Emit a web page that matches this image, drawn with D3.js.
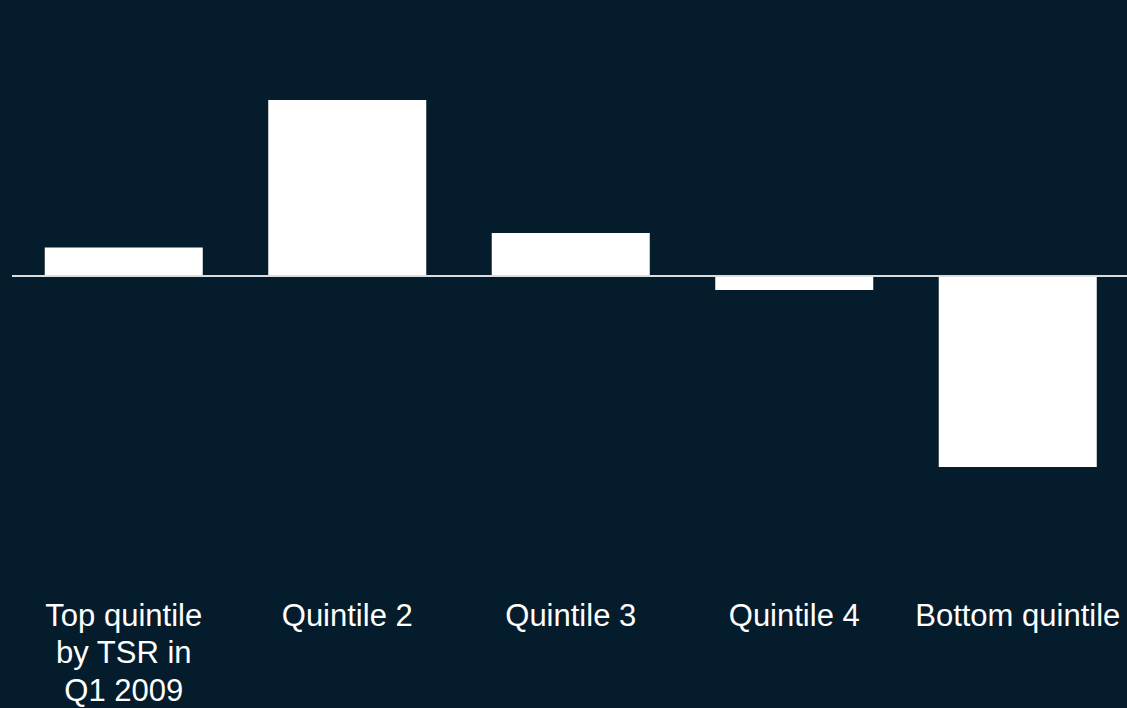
<!DOCTYPE html>
<html>
<head>
<meta charset="utf-8">
<script src="https://cdn.jsdelivr.net/npm/d3@7"></script>
<style>
  html, body { margin: 0; padding: 0; background: #051c2c; }
  svg { display: block; }
</style>
</head>
<body>
<svg id="chart" width="1127" height="708"></svg>
<script>
// Data
const categories = ["Top quintile by TSR in Q1 2009", "Quintile 2", "Quintile 3", "Quintile 4", "Bottom quintile"];
const labelLines = [["Top quintile", "by TSR in", "Q1 2009"], ["Quintile 2"], ["Quintile 3"], ["Quintile 4"], ["Bottom quintile"]];
const values = [2.85, 17.6, 4.3, -1.4, -19.1];

const W = 1127, H = 708;
const svg = d3.select("#chart");
svg.append("rect").attr("width", W).attr("height", H).attr("fill", "#051c2c");

const x = d3.scaleBand()
  .domain(categories)
  .range([12, 1129.5])
  .paddingInner(0.293)
  .paddingOuter(0.1465);

const y = d3.scaleLinear().domain([-20, 20]).range([476, 76]);

svg.append("g").selectAll("rect")
  .data(values)
  .join("rect")
  .attr("x", (d, i) => x(categories[i]))
  .attr("width", x.bandwidth())
  .attr("y", d => Math.min(y(d), y(0)))
  .attr("height", d => Math.abs(y(d) - y(0)))
  .attr("fill", "#ffffff");

// baseline
svg.append("line")
  .attr("x1", 12).attr("x2", 1129.5)
  .attr("y1", y(0)).attr("y2", y(0))
  .attr("stroke", "#dcdcdc")
  .attr("stroke-width", 2);

// category labels
const lab = svg.append("g")
  .attr("font-family", "'Liberation Sans', Arial, Helvetica, sans-serif")
  .attr("font-size", 31)
  .attr("fill", "#ffffff")
  .attr("text-anchor", "middle");

categories.forEach((c, i) => {
  const t = lab.append("text")
    .attr("x", x(c) + x.bandwidth() / 2)
    .attr("y", 625.5);
  labelLines[i].forEach((ln, j) => {
    t.append("tspan")
      .attr("x", x(c) + x.bandwidth() / 2)
      .attr("dy", j === 0 ? 0 : 37.5)
      .text(ln);
  });
});
</script>
</body>
</html>
